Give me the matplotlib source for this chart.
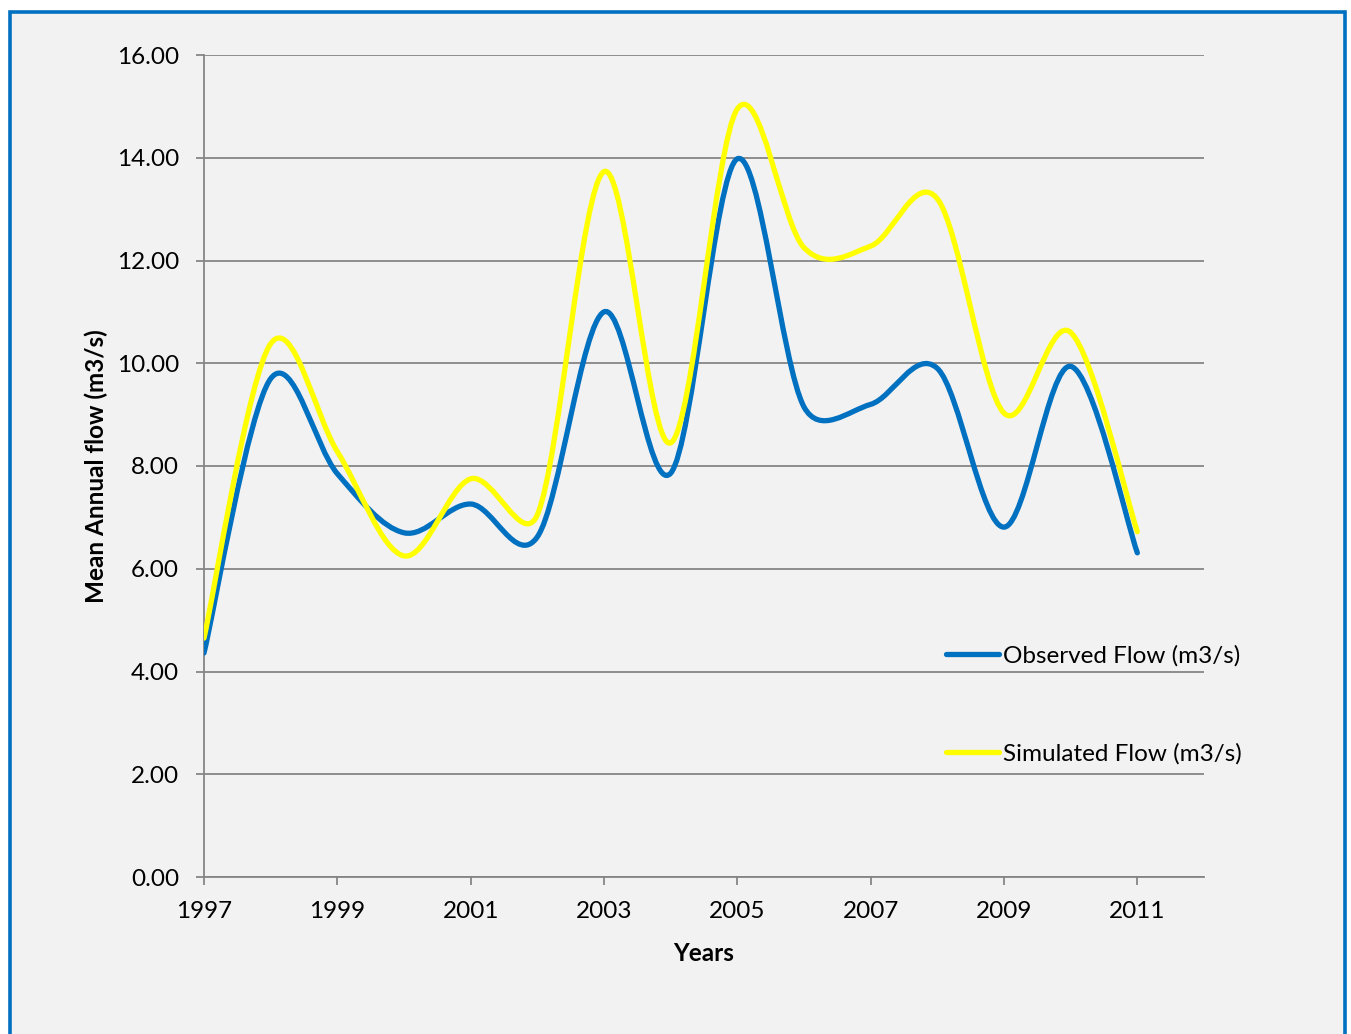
import numpy as np
import matplotlib
matplotlib.use('Agg')
import matplotlib.pyplot as plt
from matplotlib.path import Path
from matplotlib.patches import PathPatch, Rectangle
from matplotlib.lines import Line2D

anos = [1997, 1998, 1999, 2000, 2001, 2002, 2003, 2004, 2005, 2006, 2007, 2008, 2009, 2010, 2011]
observado = [4.36, 9.70, 7.85, 6.70, 7.26, 6.62, 11.00, 7.86, 13.98, 9.15, 9.20, 9.90, 6.81, 9.94, 6.31]
simulado = [4.65, 10.38, 8.28, 6.25, 7.75, 7.05, 13.73, 8.45, 14.95, 12.25, 12.28, 13.20, 9.03, 10.60, 6.72]
ticks_x = [1997, 1999, 2001, 2003, 2005, 2007, 2009, 2011]
ticks_y = [0, 2, 4, 6, 8, 10, 12, 14, 16]

AZUL = '#0070C0'
AMARELO = '#FFFF00'
CINZA = '#868686'
FONTE = 17.5

plt.rcParams['font.family'] = ['Lato', 'DejaVu Sans']

# escala aproximada em pixels por unidade (para o suavizado tipo Excel)
PX_ANO = 1000 / 15
PX_Y = 822 / 16


def caminho_suave(x, y):
    # suavizado tipo Excel: Bezier cubica, bracos limitados a metade do segmento
    pts = np.column_stack([np.asarray(x, float), np.asarray(y, float)])
    escala = np.array([PX_ANO, PX_Y])
    n = len(pts)

    def dist(a, b):
        return np.hypot(*((a - b) * escala))

    verts = [pts[0]]
    codes = [Path.MOVETO]
    for i in range(n - 1):
        p0 = pts[i - 1] if i > 0 else pts[i]
        p1 = pts[i]
        p2 = pts[i + 1]
        p3 = pts[i + 2] if i + 2 < n else pts[i + 1]
        d02 = dist(p0, p2)
        d12 = dist(p1, p2)
        d13 = dist(p1, p3)
        f1 = 1 / 6 if d02 / 6 < d12 / 2 else d12 / (2 * d02)
        f2 = 1 / 6 if d13 / 6 < d12 / 2 else d12 / (2 * d13)
        c1 = p1 + (p2 - p0) * f1
        c2 = p2 - (p3 - p1) * f2
        verts += [c1, c2, p2]
        codes += [Path.CURVE4] * 3
    return Path(verts, codes)


fig = plt.figure(figsize=(13.51, 10.34), dpi=100, facecolor='white')
fundo = Rectangle((9.5 / 1351, -0.05), (1344.5 - 9.5) / 1351, 1 - 11.5 / 1034 + 0.05,
                  transform=fig.transFigure, facecolor='#F2F2F2', edgecolor=AZUL,
                  linewidth=2.6, zorder=-5)
fig.patches.append(fundo)

ax = fig.add_axes([204 / 1351, 1 - 877 / 1034, 1000 / 1351, 822 / 1034])
ax.set_facecolor('none')

ax.add_patch(PathPatch(caminho_suave(anos, observado), fill=False, edgecolor=AZUL,
                       linewidth=3.8, capstyle='round', joinstyle='round', zorder=3))
ax.add_patch(PathPatch(caminho_suave(anos, simulado), fill=False, edgecolor=AMARELO,
                       linewidth=3.8, capstyle='round', joinstyle='round', zorder=4))

ax.set_xlim(1997, 2012)
ax.set_ylim(0, 16)
ax.set_xticks(ticks_x)
ax.set_xticklabels([str(a) for a in ticks_x])
ax.set_yticks(ticks_y)
ax.set_yticklabels([f'{v:.2f}' for v in ticks_y])
ax.grid(axis='y', color=CINZA, linewidth=1.3)
ax.set_axisbelow(True)

for lado in ['top', 'right']:
    ax.spines[lado].set_visible(False)
for lado in ['left', 'bottom']:
    ax.spines[lado].set_color(CINZA)
    ax.spines[lado].set_linewidth(1.3)

ax.tick_params(axis='both', direction='out', length=6, width=1.3, color=CINZA,
               labelsize=FONTE, labelcolor='black')
ax.tick_params(axis='x', pad=11)
ax.tick_params(axis='y', pad=12)

ax.set_ylabel('Mean Annual flow (m3/s)', fontsize=FONTE, fontweight='bold', va='center')
ax.yaxis.set_label_coords(-0.108, 0.5)
ax.set_xlabel('Years', fontsize=FONTE, fontweight='bold', va='center')
ax.xaxis.set_label_coords(0.5, -0.0925)

handles = [Line2D([], [], color=AZUL, linewidth=3.8, solid_capstyle='round'),
           Line2D([], [], color=AMARELO, linewidth=3.8, solid_capstyle='round')]
fig.legend(handles, ['Observed Flow (m3/s)', 'Simulated Flow (m3/s)'],
           loc='upper left', bbox_to_anchor=(946 / 1351, 1 - 645 / 1034),
           frameon=False, fontsize=FONTE, labelspacing=3.15, handlelength=2.2,
           handletextpad=0.15, borderpad=0, borderaxespad=0)

fig.savefig('out.png', dpi=100, facecolor='white')
